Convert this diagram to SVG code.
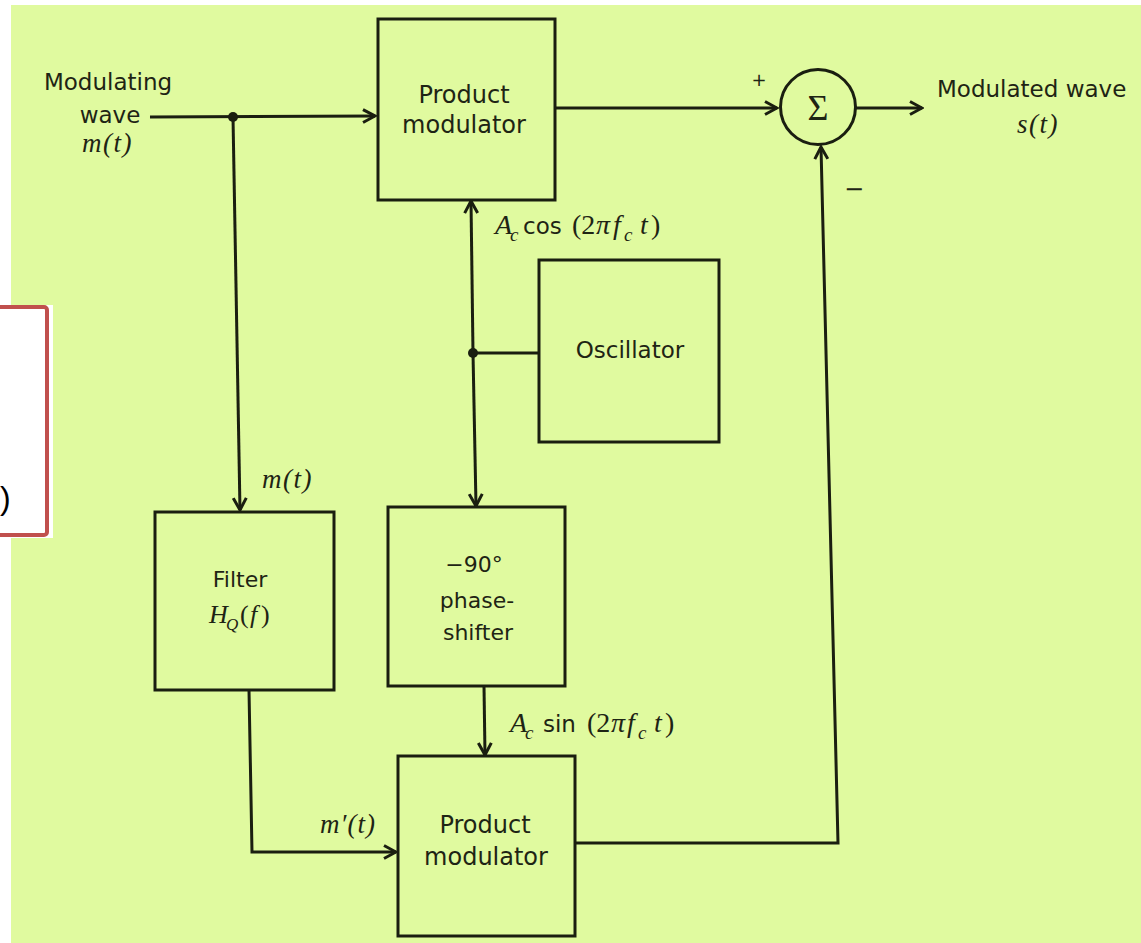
<svg xmlns="http://www.w3.org/2000/svg" width="1141" height="943" viewBox="0 0 1141 943">
<style>
.box{fill:none;stroke:#1a1e10;stroke-width:3}
.ln{fill:none;stroke:#1a1e10;stroke-width:3}
.lb{font-family:"DejaVu Sans","Liberation Sans",sans-serif;fill:#1e2414}
.m{font-family:"Liberation Serif","DejaVu Serif",serif;font-style:italic;fill:#1e2414}
.r{font-family:"Liberation Serif","DejaVu Serif",serif;fill:#1e2414}
</style>
<defs>
<marker id="arr" viewBox="-14 -8 16 16" markerWidth="16" markerHeight="16" refX="0" refY="0" orient="auto" markerUnits="userSpaceOnUse">
<path d="M-12,-6.5 L0,0 L-12,6.5" fill="none" stroke="#1a1e10" stroke-width="3"/>
</marker>
</defs>
<rect x="0" y="0" width="1141" height="943" fill="#ffffff"/>
<rect x="11" y="5" width="1130" height="938" fill="#e0fa9f"/>
<g id="red-box">
<rect x="0" y="305" width="53" height="233" fill="#ffffff"/>
<rect x="-10" y="307" width="57" height="228" rx="3" fill="#ffffff" stroke="#c0504d" stroke-width="4"/>
<text x="0" y="509" font-family="Liberation Sans, sans-serif" font-size="32" fill="#000">)</text>
</g>
<g id="connectors">
<line class="ln" x1="150" y1="117" x2="375" y2="116" marker-end="url(#arr)"/>
<circle cx="233" cy="117" r="5" fill="#1a1e10"/>
<line class="ln" x1="233" y1="117" x2="240" y2="510" marker-end="url(#arr)"/>
<line class="ln" x1="555" y1="108" x2="777" y2="108" marker-end="url(#arr)"/>
<line class="ln" x1="856" y1="108" x2="922" y2="108" marker-end="url(#arr)"/>
<polyline class="ln" points="575,843 838,843 821,147" marker-end="url(#arr)"/>
<circle cx="473" cy="353" r="5" fill="#1a1e10"/>
<line class="ln" x1="473" y1="353" x2="539" y2="353"/>
<line class="ln" x1="473" y1="353" x2="471" y2="201" marker-end="url(#arr)"/>
<line class="ln" x1="473" y1="353" x2="476" y2="506" marker-end="url(#arr)"/>
<line class="ln" x1="484" y1="686" x2="485" y2="755" marker-end="url(#arr)"/>
<polyline class="ln" points="249,690 252,852 396,852" marker-end="url(#arr)"/>
</g>
<g id="input-label">
<text class="lb" x="108" y="90" font-size="23" text-anchor="middle">Modulating</text>
<text class="lb" x="110" y="123" font-size="23" text-anchor="middle">wave</text>
<text class="m" x="82" y="152" font-size="27" letter-spacing="1.5">m(t)</text>
</g>
<g id="product-modulator-top">
<rect class="box" x="378" y="19" width="177" height="181"/>
<text class="lb" x="464" y="103" font-size="24" text-anchor="middle">Product</text>
<text class="lb" x="464" y="133" font-size="24" text-anchor="middle">modulator</text>
</g>
<g id="summer">
<circle cx="818" cy="107" r="37.5" fill="none" stroke="#1a1e10" stroke-width="3"/>
<text class="r" x="818" y="120" font-size="36" text-anchor="middle">Σ</text>
<text class="lb" x="759" y="86" font-size="18" text-anchor="middle">+</text>
<text class="lb" x="854" y="197" font-size="24" text-anchor="middle">−</text>
</g>
<g id="output-label">
<text class="lb" x="937" y="97" font-size="23">Modulated wave</text>
<text class="m" x="1017" y="133" font-size="27" letter-spacing="1.5">s(t)</text>
</g>
<g id="cos-label">
<text class="m" x="495" y="234" font-size="28">A</text>
<text class="m" x="510" y="241" font-size="19">c</text>
<text class="lb" x="523" y="234" font-size="23">cos</text>
<text class="r" x="572" y="234" font-size="28">(2</text>
<text class="m" x="596" y="234" font-size="28">π</text>
<text class="m" x="613" y="234" font-size="28">f</text>
<text class="m" x="624" y="241" font-size="19">c</text>
<text class="m" x="640" y="234" font-size="28">t</text>
<text class="r" x="651" y="234" font-size="28">)</text>
</g>
<g id="oscillator">
<rect class="box" x="539" y="260" width="180" height="182"/>
<text class="lb" x="630" y="358" font-size="23" text-anchor="middle">Oscillator</text>
</g>
<g id="filter">
<rect class="box" x="155" y="512" width="179" height="178"/>
<text class="lb" x="240" y="587" font-size="22" text-anchor="middle">Filter</text>
<text class="m" x="209" y="623" font-size="26">H</text>
<text class="m" x="226" y="630" font-size="17">Q</text>
<text class="r" x="240" y="623" font-size="26">(</text>
<text class="m" x="250" y="623" font-size="26">f</text>
<text class="r" x="261" y="623" font-size="26">)</text>
<text class="m" x="262" y="488" font-size="27" letter-spacing="1.5">m(t)</text>
</g>
<g id="phase-shifter">
<rect class="box" x="388" y="507" width="177" height="179"/>
<text class="lb" x="474" y="572" font-size="22" text-anchor="middle">−90°</text>
<text class="lb" x="477" y="608" font-size="22" text-anchor="middle">phase-</text>
<text class="lb" x="478" y="640" font-size="22" text-anchor="middle">shifter</text>
</g>
<g id="sin-label">
<text class="m" x="510" y="732" font-size="28">A</text>
<text class="m" x="525" y="739" font-size="19">c</text>
<text class="lb" x="543" y="732" font-size="23">sin</text>
<text class="r" x="587" y="732" font-size="28">(2</text>
<text class="m" x="611" y="732" font-size="28">π</text>
<text class="m" x="627" y="732" font-size="28">f</text>
<text class="m" x="638" y="739" font-size="19">c</text>
<text class="m" x="654" y="732" font-size="28">t</text>
<text class="r" x="665" y="732" font-size="28">)</text>
</g>
<g id="product-modulator-bottom">
<rect class="box" x="398" y="756" width="177" height="180"/>
<text class="lb" x="485" y="833" font-size="24" text-anchor="middle">Product</text>
<text class="lb" x="486" y="865" font-size="24" text-anchor="middle">modulator</text>
<text class="m" x="320" y="833" font-size="27" letter-spacing="1">m′(t)</text>
</g>
</svg>
